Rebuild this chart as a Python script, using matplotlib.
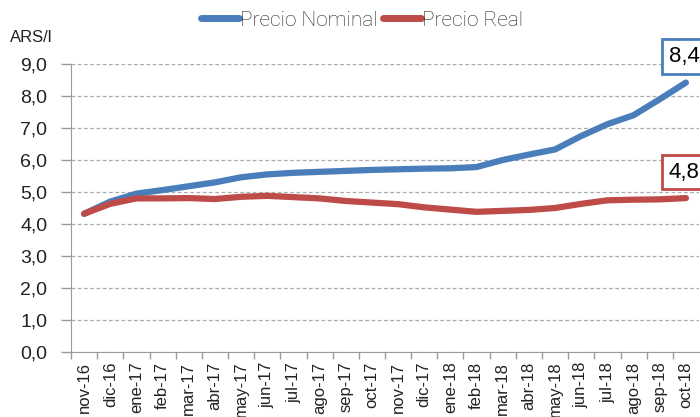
import matplotlib
matplotlib.use("Agg")
import matplotlib.pyplot as plt

meses = ["nov-16", "dic-16", "ene-17", "feb-17", "mar-17", "abr-17", "may-17", "jun-17",
         "jul-17", "ago-17", "sep-17", "oct-17", "nov-17", "dic-17", "ene-18", "feb-18",
         "mar-18", "abr-18", "may-18", "jun-18", "jul-18", "ago-18", "sep-18", "oct-18"]
nominal = [4.32, 4.70, 4.95, 5.06, 5.18, 5.30, 5.46, 5.55, 5.60, 5.63, 5.66, 5.69,
           5.71, 5.73, 5.74, 5.78, 6.00, 6.17, 6.33, 6.75, 7.12, 7.40, 7.90, 8.42]
real = [4.32, 4.63, 4.80, 4.80, 4.81, 4.78, 4.85, 4.88, 4.84, 4.80, 4.72, 4.67,
        4.62, 4.52, 4.45, 4.38, 4.41, 4.44, 4.50, 4.63, 4.74, 4.76, 4.77, 4.81]
etiqueta_nominal = "8,4"
etiqueta_real = "4,8"
yticks = [0, 1, 2, 3, 4, 5, 6, 7, 8, 9]

azul = "#4A7EBB"
rojo = "#BE4B48"
gris = "#999999"
num_font = ["Liberation Sans", "DejaVu Sans"]

fig = plt.figure(figsize=(7, 4.17), dpi=100)
ax = fig.add_axes([71 / 700, 1 - 352 / 417, 628 / 700, 288 / 417])

x = list(range(len(meses)))
ax.plot(x, nominal, color=azul, lw=4.5, solid_capstyle="round", solid_joinstyle="round",
        label="Precio Nominal", zorder=3)
ax.plot(x, real, color=rojo, lw=4.5, solid_capstyle="round", solid_joinstyle="round",
        label="Precio Real", zorder=3)

ax.set_xlim(-0.5, len(meses) - 0.5)
ax.set_ylim(0, 9)
ax.set_yticks(yticks)
ax.set_yticklabels([f"{v},0" for v in yticks], fontsize=14, family=num_font, color="#222222")
ax.set_xticks(x)
ax.set_xticklabels(meses, rotation=90, fontsize=12, family=num_font, color="#222222")
ax.set_xticks([i + 0.5 for i in x[:-1]] + [-0.5], minor=True)
ax.tick_params(axis="x", which="major", length=0, pad=7)
ax.tick_params(axis="x", which="minor", length=5, color=gris, width=1)
ax.tick_params(axis="y", length=7, color=gris, width=1, pad=10)

ax.grid(axis="y", color="#AAAAAA", linestyle=(0, (3, 2)), linewidth=0.9)
ax.set_axisbelow(True)
for s in ["top", "right"]:
    ax.spines[s].set_visible(False)
ax.spines["left"].set_color(gris)
ax.spines["bottom"].set_color(gris)

# etiquetas del ultimo dato
ax.annotate(etiqueta_nominal, (x[-1], nominal[-1]), xytext=(-17, 26), textcoords="offset pixels",
            ha="left", va="center", fontsize=16, family=num_font,
            bbox=dict(boxstyle="square,pad=0.3", fc="white", ec=azul, lw=2), annotation_clip=False)
ax.annotate(etiqueta_real, (x[-1], real[-1]), xytext=(-17, 26), textcoords="offset pixels",
            ha="left", va="center", fontsize=16, family=num_font,
            bbox=dict(boxstyle="square,pad=0.3", fc="white", ec=rojo, lw=2), annotation_clip=False)

fig.text(10 / 700, 1 - 38 / 417, "ARS/l", fontsize=12, family=num_font, va="center", color="#222222")

leg = fig.legend(loc="center", bbox_to_anchor=(362 / 700, 1 - 20 / 417), ncol=2, frameon=False,
                 handlelength=1.8, handletextpad=0.05, columnspacing=0.3,
                 prop={"family": "Roboto", "weight": "light", "size": 15})
for t in leg.get_texts():
    t.set_color("#222222")
for h in leg.get_lines():
    h.set_linewidth(5)

fig.savefig("out.png", dpi=100)
